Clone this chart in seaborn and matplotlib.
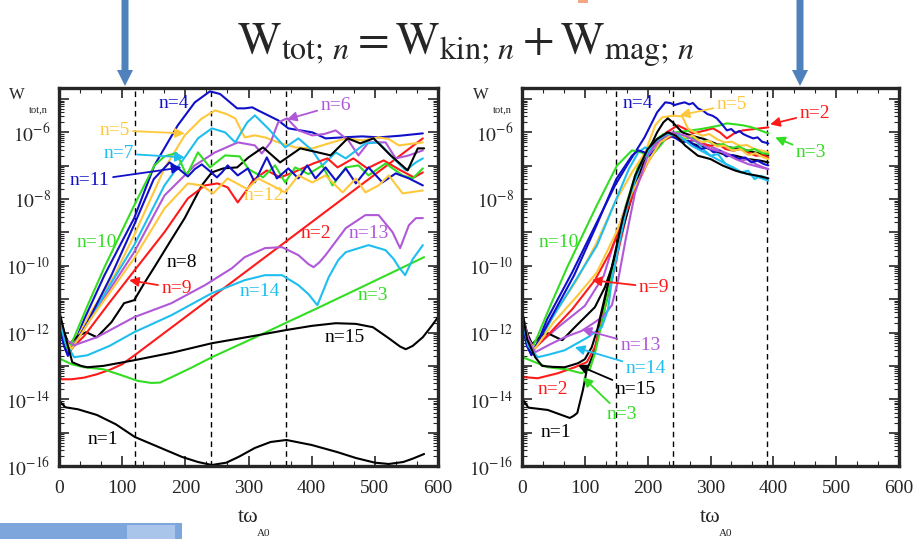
import numpy as np
import matplotlib
matplotlib.use("Agg")
import matplotlib.pyplot as plt
import seaborn as sns
from matplotlib.ticker import LogLocator, FuncFormatter, MultipleLocator, NullFormatter
from matplotlib.patches import Rectangle, FancyArrow

# ---- data: time (t*omega_A0) and log10(W_tot,n) ----
# left panel
L1_t = [0, 3, 10, 30, 60, 90, 120, 160, 195, 220, 242, 265, 285, 310, 335, 360, 400, 440, 470, 500, 522, 545, 560, 578]
L1_e = [-14.17, -14.1, -14.24, -14.3, -14.47, -14.75, -15.13, -15.45, -15.73, -15.88, -15.97, -15.9, -15.72, -15.46,
        -15.28, -15.22, -15.37, -15.58, -15.76, -15.9, -15.94, -15.88, -15.78, -15.64]
L2_t = [0, 5, 20, 40, 60, 80, 100, 119, 242, 358, 576]
L2_e = [-13.35, -13.4, -13.4, -13.35, -13.25, -13.12, -12.95, -12.69, -10.94, -9.29, -6.18]
L3_t = [0, 20, 40, 70, 99, 125, 146, 160, 178, 210, 242, 310, 358, 409, 480, 578]
L3_e = [-12.77, -12.95, -13.04, -13.1, -13.28, -13.45, -13.51, -13.5, -13.34, -13.05, -12.74, -12.15, -11.72, -11.27,
        -10.63, -9.74]
L4_t = [0, 8, 14, 25, 40, 72, 119, 151, 188, 215, 239, 255, 267, 282, 294, 306, 315, 347, 363, 401, 422, 449, 480,
        506, 540, 576]
L4_e = [-11.7, -12.4, -12.7, -12.3, -11.6, -10.28, -8.57, -6.99, -5.79, -5.1, -4.77, -4.85, -5.04, -5.28, -5.28,
        -5.25, -5.34, -5.64, -5.88, -6.0, -6.18, -6.15, -6.12, -6.15, -6.1, -6.03]
L5_t = [0, 10, 18, 50, 88, 119, 167, 199, 225, 247, 265, 279, 294, 310, 326, 347, 374, 401, 427, 454, 481, 506, 522,
        538, 576]
L5_e = [-11.5, -12.3, -12.55, -11.4, -10.28, -9.08, -7.08, -6.09, -5.6, -5.34, -5.45, -5.58, -6.15, -6.09, -6.15,
        -6.3, -6.45, -6.48, -6.33, -6.18, -6.24, -6.15, -6.2, -6.39, -6.3]
L6_t = [0, 10, 20, 60, 119, 167, 215, 247, 283, 310, 321, 335, 347, 361, 379, 401, 420, 438, 458, 474, 490, 517, 533,
        554, 576]
L6_e = [-11.5, -12.2, -12.45, -11.3, -9.59, -7.89, -6.99, -6.6, -6.3, -6.39, -6.63, -6.3, -5.7, -5.58, -5.94, -6.09,
        -6.05, -5.94, -6.24, -6.69, -6.3, -6.3, -6.78, -6.69, -6.54]
L7_t = [0, 10, 18, 50, 80, 119, 167, 199, 220, 242, 263, 279, 298, 310, 331, 358, 379, 401, 417, 438, 454, 485, 506,
        528, 549, 565, 576]
L7_e = [-11.6, -12.4, -12.55, -11.55, -10.6, -9.38, -7.59, -6.75, -6.18, -5.88, -6.0, -6.3, -5.7, -5.49, -5.88,
        -6.45, -6.18, -6.54, -6.99, -6.6, -6.78, -6.33, -6.3, -6.75, -7.14, -6.9, -6.78]
L8_t = [0, 8, 16, 30, 43, 60, 83, 103, 119, 135, 151, 175, 199, 226, 242, 260, 282, 300, 323, 350, 382, 410, 430,
        457, 477, 498, 525, 552, 568, 578]
L8_e = [-11.4, -12.0, -12.35, -12.1, -11.99, -12.14, -11.69, -11.12, -11.03, -10.52, -10.04, -9.3, -8.57, -7.59,
        -7.2, -7.08, -7.05, -6.75, -6.45, -6.9, -6.48, -6.6, -6.69, -6.18, -6.33, -6.18, -6.69, -7.14, -6.48, -6.48]
L9_t = [0, 10, 19, 40, 80, 119, 167, 204, 231, 251, 267, 283, 299, 307, 329, 350, 371, 403, 425, 441, 466, 488, 514,
        541, 562, 576]
L9_e = [-11.6, -12.3, -12.5, -12.1, -11.1, -10.15, -8.99, -7.98, -7.59, -7.53, -7.65, -8.1, -7.68, -7.44, -7.14,
        -7.35, -7.2, -6.93, -6.78, -7.05, -6.78, -7.08, -6.84, -7.14, -7.35, -7.2]
L10_t = [0, 8, 14, 25, 45, 72, 119, 151, 167, 186, 202, 220, 239, 263, 286, 300, 323, 342, 358, 374, 395, 417, 433,
         454, 474, 490, 517, 544, 560, 576]
L10_e = [-11.6, -12.3, -12.55, -12.1, -11.2, -10.04, -8.19, -6.99, -6.72, -6.62, -7.29, -6.6, -7.05, -6.69, -6.72,
         -7.1, -7.35, -6.99, -7.5, -7.05, -7.25, -6.99, -7.59, -7.05, -6.99, -7.29, -6.93, -7.29, -7.38, -7.08]
L11_t = [0, 8, 14, 25, 45, 83, 119, 150, 175, 190, 204, 215, 226, 238, 250, 258, 267, 283, 299, 310, 320, 329, 345,
         363, 379, 393, 406, 422, 438, 454, 470, 490, 512, 533, 554, 576]
L11_e = [-11.7, -12.4, -12.65, -12.35, -11.7, -10.28, -8.77, -7.4, -6.9, -7.1, -7.32, -7.1, -6.96, -7.15, -7.35,
         -7.2, -6.99, -7.29, -7.08, -7.5, -7.1, -6.75, -7.38, -7.08, -7.38, -6.99, -7.38, -7.05, -7.44, -7.08, -7.53,
         -7.05, -7.5, -7.23, -7.38, -7.59]
L12_t = [0, 10, 20, 50, 88, 119, 167, 204, 226, 244, 267, 298, 315, 337, 358, 379, 401, 422, 449, 470, 485, 506, 522,
         544, 576]
L12_e = [-11.5, -12.2, -12.5, -11.6, -10.6, -9.77, -8.28, -7.53, -7.59, -7.83, -7.38, -7.7, -7.38, -7.59, -7.8,
         -7.29, -7.5, -7.29, -7.8, -7.38, -7.8, -7.59, -7.29, -7.83, -7.74]
L13_t = [0, 10, 24, 60, 119, 178, 231, 274, 294, 326, 353, 379, 395, 403, 412, 422, 454, 485, 506, 528, 540, 554, 565,
         576]
L13_e = [-11.5, -12.2, -12.38, -12.14, -11.54, -11.12, -10.58, -10.07, -9.74, -9.47, -9.44, -9.68, -9.95, -10.04,
         -9.9, -9.68, -8.87, -8.48, -8.48, -8.99, -9.47, -8.78, -8.57, -8.57]
L14_t = [0, 10, 24, 45, 80, 119, 178, 242, 294, 326, 353, 379, 395, 409, 427, 442, 454, 490, 517, 530, 538, 548, 560,
         576]
L14_e = [-11.6, -12.3, -12.74, -12.68, -12.4, -11.99, -11.48, -10.82, -10.43, -10.28, -10.28, -10.58, -10.85, -11.18,
         -10.34, -9.83, -9.59, -9.38, -9.53, -9.8, -10.04, -10.28, -9.8, -9.38]
L15_t = [0, 6, 13, 21, 35, 45, 70, 119, 180, 242, 306, 358, 400, 438, 470, 497, 522, 540, 549, 560, 576, 590, 600]
L15_e = [-11.33, -11.8, -12.32, -12.89, -13.0, -13.04, -13.0, -12.83, -12.6, -12.32, -12.11, -11.93, -11.8, -11.72,
         -11.74, -11.84, -12.17, -12.42, -12.5, -12.4, -12.14, -11.8, -11.54]

# right panel
R1_t = [0, 3, 10, 41, 60, 76, 82, 88, 97, 103, 116, 129, 143, 160, 180, 200, 220, 240, 260, 280, 300, 320, 340, 360,
        380, 392]
R1_e = [-14.17, -14.05, -14.25, -14.32, -14.45, -14.56, -14.5, -14.41, -13.72, -13.13, -12.53, -11.33, -10.13, -8.7,
        -7.4, -6.6, -6.2, -6.1, -6.25, -6.4, -6.5, -6.65, -6.7, -6.8, -6.85, -6.9]
R2_t = [0, 5, 25, 57, 84, 103, 116, 127, 143, 155, 170, 190, 210, 230, 248, 260, 272, 290, 304, 315, 326, 340, 352,
        370, 392]
R2_e = [-13.35, -13.34, -13.37, -13.22, -13.04, -12.89, -12.44, -11.63, -10.43, -9.4, -8.2, -7.0, -6.3, -6.0, -5.79,
        -5.9, -6.03, -5.95, -5.88, -6.0, -6.18, -6.0, -5.94, -5.9, -5.85]
R3_t = [0, 5, 41, 70, 95, 108, 116, 126, 137, 150, 165, 185, 205, 225, 245, 265, 285, 299, 313, 326, 340, 352, 366,
        379, 392]
R3_e = [-12.7, -12.77, -13.04, -13.1, -13.22, -13.1, -12.62, -11.8, -10.82, -9.5, -8.2, -7.0, -6.35, -6.05, -6.0,
        -5.95, -5.9, -5.85, -5.8, -5.73, -5.76, -5.79, -5.85, -5.94, -6.03]
R4_t = [0, 8, 15, 25, 40, 80, 148, 170, 195, 215, 228, 236, 243, 250, 259, 266, 272, 280, 288, 295, 303, 310, 318,
        326, 333, 340, 346, 352, 360, 368, 375, 382, 392]
R4_e = [-11.7, -12.4, -12.68, -12.3, -11.6, -10.19, -7.59, -6.9, -6.15, -5.4, -5.1, -5.12, -5.18, -5.14, -5.1, -5.16,
        -5.12, -5.28, -5.35, -5.45, -5.5, -5.58, -5.75, -5.94, -5.9, -6.02, -5.96, -6.05, -6.12, -6.18, -6.15, -6.28,
        -6.33]
R5_t = [0, 10, 18, 50, 88, 119, 148, 175, 196, 212, 223, 240, 255, 264, 275, 287, 298, 310, 322, 334, 346, 358, 370,
        382, 392]
R5_e = [-11.5, -12.3, -12.55, -11.5, -10.4, -9.3, -8.1, -7.2, -6.6, -5.79, -5.55, -5.5, -5.52, -5.88, -6.0, -6.1,
        -6.05, -6.2, -6.3, -6.28, -6.4, -6.38, -6.5, -6.55, -6.6]
R6_t = [0, 10, 20, 60, 100, 130, 160, 185, 210, 235, 248, 260, 272, 285, 298, 310, 322, 335, 348, 360, 372, 384, 392]
R6_e = [-11.5, -12.2, -12.45, -11.8, -11.2, -10.3, -8.5, -7.2, -6.4, -6.0, -6.05, -6.15, -6.1, -6.3, -6.4, -6.5,
        -6.6, -6.7, -6.85, -6.8, -6.95, -7.05, -7.1]
R7_t = [0, 10, 18, 50, 80, 119, 150, 170, 185, 196, 210, 225, 240, 252, 264, 276, 288, 300, 312, 324, 336, 348, 360,
        370, 380, 392]
R7_e = [-11.6, -12.4, -12.55, -11.5, -10.6, -9.4, -8.0, -7.1, -6.6, -6.45, -6.6, -6.2, -6.05, -6.15, -6.3, -6.25,
        -6.5, -6.7, -6.65, -6.95, -7.05, -7.2, -7.15, -7.4, -7.3, -7.38]
R8_t = [0, 8, 16, 30, 41, 64, 84, 116, 132, 143, 160, 180, 200, 215, 225, 232, 240, 255, 270, 290, 310, 330, 350,
        370, 392]
R8_e = [-11.4, -12.0, -12.35, -12.1, -12.02, -12.23, -11.84, -11.24, -10.64, -10.04, -8.9, -7.6, -6.6, -6.0, -5.7,
        -5.58, -5.7, -6.0, -6.1, -6.2, -6.35, -6.45, -6.5, -6.6, -6.69]
R9_t = [0, 10, 19, 40, 80, 116, 140, 160, 180, 200, 220, 240, 252, 264, 276, 288, 300, 312, 324, 336, 348, 360, 372,
        384, 392]
R9_e = [-11.6, -12.3, -12.5, -12.1, -11.3, -10.43, -9.6, -8.7, -7.7, -6.9, -6.3, -6.1, -6.15, -6.3, -6.2, -6.35,
        -6.4, -6.35, -6.5, -6.55, -6.5, -6.6, -6.7, -6.68, -6.75]
R10_t = [0, 8, 14, 25, 45, 72, 119, 151, 175, 190, 204, 220, 232, 245, 258, 270, 282, 295, 308, 320, 333, 345, 358,
         370, 382, 392]
R10_e = [-11.6, -12.3, -12.55, -12.1, -11.2, -10.04, -8.19, -7.0, -6.54, -6.6, -6.75, -6.4, -6.1, -6.05, -6.2, -6.15,
         -6.3, -6.25, -6.38, -6.35, -6.48, -6.42, -6.55, -6.5, -6.62, -6.65]
R11_t = [0, 8, 15, 25, 45, 83, 119, 150, 175, 185, 195, 204, 215, 225, 235, 245, 255, 265, 275, 285, 295, 305, 315,
         325, 335, 345, 355, 365, 375, 385, 392]
R11_e = [-11.7, -12.4, -12.65, -12.3, -11.6, -10.28, -8.77, -7.4, -6.7, -6.54, -6.6, -6.69, -6.45, -6.2, -6.1, -6.18,
         -6.3, -6.25, -6.4, -6.5, -6.45, -6.6, -6.55, -6.72, -6.68, -6.8, -6.75, -6.9, -6.85, -6.95, -6.99]
R12_t = [0, 10, 20, 50, 88, 119, 150, 175, 200, 220, 235, 248, 260, 272, 285, 298, 310, 322, 335, 348, 360, 372, 384,
         392]
R12_e = [-11.5, -12.2, -12.5, -11.7, -10.9, -10.2, -9.0, -7.8, -6.9, -6.3, -6.1, -6.05, -6.15, -6.1, -6.3, -6.25,
         -6.42, -6.4, -6.55, -6.5, -6.68, -6.62, -6.75, -6.8]
R13_t = [0, 10, 21, 45, 68, 95, 116, 130, 143, 153, 165, 180, 200, 220, 240, 260, 280, 300, 320, 340, 360, 380, 392]
R13_e = [-11.5, -12.2, -12.59, -12.35, -12.14, -11.95, -11.69, -11.5, -11.18, -10.43, -9.2, -7.8, -6.7, -6.2, -6.0,
         -6.1, -6.3, -6.5, -6.6, -6.8, -6.95, -7.05, -7.1]
R14_t = [0, 10, 25, 45, 68, 105, 127, 137, 143, 155, 170, 190, 210, 230, 250, 270, 290, 310, 330, 350, 370, 392]
R14_e = [-11.6, -12.4, -12.74, -12.65, -12.53, -12.14, -11.84, -11.3, -10.43, -9.3, -8.0, -6.9, -6.3, -6.05, -6.1,
         -6.4, -6.6, -6.8, -7.0, -7.2, -7.3, -7.45]
R15_t = [0, 8, 21, 32, 50, 68, 89, 100, 111, 120, 127, 143, 160, 180, 200, 215, 232, 245, 260, 280, 300, 320, 340,
         360, 375, 392]
R15_e = [-11.33, -12.2, -12.74, -13.0, -13.03, -13.04, -12.92, -12.8, -12.44, -11.9, -11.33, -10.04, -8.6, -7.3,
         -6.5, -6.2, -6.0, -6.1, -6.4, -6.7, -6.8, -7.0, -7.15, -7.25, -7.3, -7.38]

left_dashes = [120, 240, 360]
right_dashes = [150, 240, 390]

BLACK, RED, GREEN, BLUE = "#000000", "#FF1A1A", "#33DD22", "#1010C8"
YELLOW, CYAN, PURPLE = "#FFC83C", "#1EBEF0", "#B058D8"
mode_colors = {1: BLACK, 2: RED, 3: GREEN, 4: BLUE, 5: YELLOW, 6: PURPLE, 7: CYAN, 8: BLACK,
               9: RED, 10: GREEN, 11: BLUE, 12: YELLOW, 13: PURPLE, 14: CYAN, 15: BLACK}

left_curves = [(L1_t, L1_e), (L2_t, L2_e), (L3_t, L3_e), (L4_t, L4_e), (L5_t, L5_e), (L6_t, L6_e), (L7_t, L7_e),
               (L8_t, L8_e), (L9_t, L9_e), (L10_t, L10_e), (L11_t, L11_e), (L12_t, L12_e), (L13_t, L13_e),
               (L14_t, L14_e), (L15_t, L15_e)]
right_curves = [(R1_t, R1_e), (R2_t, R2_e), (R3_t, R3_e), (R4_t, R4_e), (R5_t, R5_e), (R6_t, R6_e), (R7_t, R7_e),
                (R8_t, R8_e), (R9_t, R9_e), (R10_t, R10_e), (R11_t, R11_e), (R12_t, R12_e), (R13_t, R13_e),
                (R14_t, R14_e), (R15_t, R15_e)]

sns.set_style("ticks")
plt.rcParams["font.family"] = ["Liberation Serif", "DejaVu Serif"]
plt.rcParams["mathtext.fontset"] = "stix"

W, H = 913, 539
fig = plt.figure(figsize=(W / 100, H / 100), dpi=100)

# background overlay for the slide decorations
ov = fig.add_axes([0, 0, 1, 1])
ov.set_xlim(0, W)
ov.set_ylim(H, 0)
ov.axis("off")
for xa in (125, 800):
    ov.add_patch(FancyArrow(xa, 0, 0, 86, width=7, head_width=16, head_length=16,
                            length_includes_head=True, color="#4F81BD", lw=0))
ov.add_patch(Rectangle((0, 523), 182, 16, color="#7DA6DC", lw=0))
ov.add_patch(Rectangle((127, 525), 48, 14, color="#A9C5EA", lw=0))
ov.add_patch(Rectangle((578, 0), 10, 3, color="#F4A582", lw=0))


def px2fig(x, y):
    return x / W, 1 - y / H


def exp_fmt(v, pos):
    p = int(round(np.log10(v)))
    return r"$10^{%d}$" % p if p % 2 == 0 else ""


def draw_panel(ax, curves, dashes):
    for n, (t, e) in enumerate(curves, start=1):
        sns.lineplot(x=t, y=np.power(10.0, np.array(e)), ax=ax, color=mode_colors[n], lw=1.5,
                     estimator=None, sort=False, legend=False)
    ax.set_yscale("log")
    ax.set_xlim(0, 600)
    ax.set_ylim(1e-16, 10 ** -4.67)
    for d in dashes:
        ax.axvline(d, color="black", ls=(0, (4, 3)), lw=1.0, zorder=1)
    ax.xaxis.set_major_locator(MultipleLocator(100))
    ax.xaxis.set_minor_locator(MultipleLocator(100 / 3))
    ax.yaxis.set_major_locator(LogLocator(base=10, numticks=30))
    ax.yaxis.set_major_formatter(FuncFormatter(exp_fmt))
    ax.yaxis.set_minor_locator(LogLocator(base=10, subs=np.arange(2, 10), numticks=30))
    ax.yaxis.set_minor_formatter(NullFormatter())
    ax.tick_params(which="both", direction="in", top=True, right=True)
    ax.tick_params(which="major", length=7, width=1.2, labelsize=14)
    ax.tick_params(which="minor", length=3.5, width=0.8)
    ax.tick_params(axis="x", pad=10)
    ax.tick_params(axis="y", pad=6)
    ax.set_xlabel("")
    ax.set_ylabel("")
    for s in ax.spines.values():
        s.set_linewidth(2.4)
        s.set_visible(True)


def label(ax, text, n, t, e, tip=None):
    c = mode_colors[n]
    if tip is None:
        ax.text(t, 10 ** e, text, color=c, fontsize=14, ha="center", va="center")
    else:
        ax.annotate(text, xy=(tip[0], 10 ** tip[1]), xytext=(t, 10 ** e), color=c, fontsize=14,
                    ha="center", va="center",
                    arrowprops=dict(arrowstyle="-|>", color=c, lw=1.3, mutation_scale=14,
                                    shrinkA=0, shrinkB=0))


axL = fig.add_axes([59 / W, 1 - 466 / H, (438 - 59) / W, (466 - 88) / H])
axR = fig.add_axes([522 / W, 1 - 466 / H, (899 - 522) / W, (466 - 88) / H])
draw_panel(axL, left_curves, left_dashes)
draw_panel(axR, right_curves, right_dashes)

# left annotations
label(axL, "n=4", 4, 181, -5.13)
label(axL, "n=5", 5, 88, -5.94, (199, -6.03))
label(axL, "n=7", 7, 94, -6.63, (199, -6.75))
label(axL, "n=11", 11, 49, -7.44, (194, -7.05))
label(axL, "n=6", 6, 438, -5.19, (361, -5.61))
label(axL, "n=12", 12, 325, -7.89)
label(axL, "n=10", 10, 59, -9.29)
label(axL, "n=8", 8, 194, -9.89)
label(axL, "n=9", 9, 186, -10.67, (111, -10.43))
label(axL, "n=2", 2, 407, -9.02)
label(axL, "n=13", 13, 490, -9.02)
label(axL, "n=14", 14, 318, -10.76)
label(axL, "n=3", 3, 497, -10.88)
label(axL, "n=15", 15, 452, -12.14)
label(axL, "n=1", 1, 70, -15.22)

# right annotations
label(axR, "n=4", 4, 185, -5.13)
label(axR, "n=5", 5, 334, -5.16, (251, -5.49))
label(axR, "n=2", 2, 466, -5.43, (395, -5.76))
label(axR, "n=3", 3, 460, -6.6, (403, -6.15))
label(axR, "n=10", 10, 59, -9.29)
label(axR, "n=9", 9, 210, -10.64, (111, -10.43))
label(axR, "n=13", 13, 189, -12.38, (95, -11.9))
label(axR, "n=14", 14, 197, -13.07, (84, -12.44))
label(axR, "n=15", 15, 181, -13.72, (89, -12.98))
label(axR, "n=2", 2, 49, -13.72)
label(axR, "n=3", 3, 159, -14.47, (97, -13.34))
label(axR, "n=1", 1, 54, -15.01)

# axis titles and main title
for wx in (17, 481):
    fig.text(*px2fig(wx, 95), "W", fontsize=12, ha="center", va="center")
    fig.text(*px2fig(wx + 21, 110), "tot,n", fontsize=7.5, ha="center", va="center")
for tx in (248, 710):
    fig.text(*px2fig(tx, 518), "t\u03c9", fontsize=16, ha="center", va="center")
    fig.text(*px2fig(tx + 16, 533), "A0", fontsize=8, ha="center", va="center")
fig.text(*px2fig(466, 45),
         r"$\mathrm{W}_{\mathrm{tot};\,\mathit{n}} = \mathrm{W}_{\mathrm{kin};\,\mathit{n}}"
         r" + \mathrm{W}_{\mathrm{mag};\,\mathit{n}}$",
         fontsize=33, ha="center", va="center")

fig.savefig("out.png", dpi=100)
